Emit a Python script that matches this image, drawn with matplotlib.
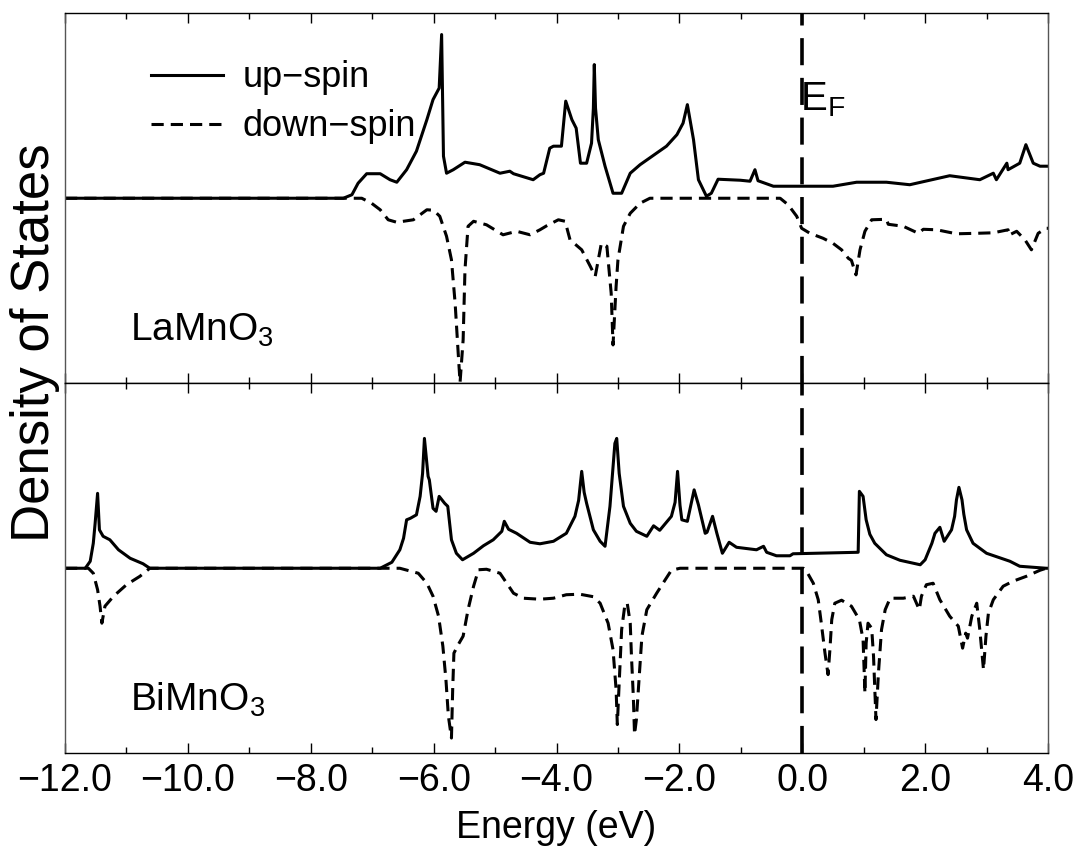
import numpy as np
import matplotlib
matplotlib.use("Agg")
import matplotlib.pyplot as plt
from matplotlib import font_manager
from matplotlib.ticker import FuncFormatter, MultipleLocator


def pick_font(*names):
    for n in names:
        try:
            font_manager.findfont(font_manager.FontProperties(family=n), fallback_to_default=False)
            return n
        except ValueError:
            pass
    return "DejaVu Sans"


narrow = pick_font("Liberation Sans Narrow", "Liberation Sans", "Arial")
regular = pick_font("Liberation Sans", "Arial")

plt.rcParams["font.family"] = [narrow, "DejaVu Sans"]
plt.rcParams["mathtext.fontset"] = "custom"
plt.rcParams["mathtext.rm"] = narrow
plt.rcParams["mathtext.default"] = "regular"

# ---- data (energy in eV, DOS in arbitrary units) ----
# LaMnO3
la_up_e = [-12.0, -7.47, -7.33, -7.23, -7.09, -6.87, -6.71, -6.60, -6.44, -6.28,
           -6.11, -6.01, -5.91, -5.87, -5.84, -5.79, -5.68, -5.49, -5.25, -4.92,
           -4.76, -4.70, -4.38, -4.27, -4.21, -4.11, -4.05, -3.92, -3.85, -3.75,
           -3.68, -3.61, -3.51, -3.43, -3.40, -3.385, -3.365, -3.32, -3.21, -3.08,
           -2.94, -2.80, -2.64, -2.21, -2.04, -1.94, -1.87, -1.77, -1.69, -1.56,
           -1.48, -1.37, -1.01, -0.85, -0.77, -0.72, -0.47, 0.07, 0.50, 0.885,
           1.37, 1.75, 2.40, 2.89, 3.11, 3.16, 3.33, 3.35, 3.54, 3.64,
           3.76, 3.87, 4.0]
la_up = [0, 0, 0.35, 1.5, 2.45, 2.45, 1.85, 1.6, 2.85, 4.7,
         7.85, 9.85, 11.0, 16.35, 4.2, 2.5, 2.85, 3.6, 3.35, 2.5,
         2.7, 2.45, 1.85, 2.35, 2.5, 5.0, 5.2, 5.2, 9.7, 7.85,
         7.0, 3.5, 3.5, 5.5, 9.0, 13.35, 9.0, 5.85, 3.2, 0.5,
         0.5, 2.5, 3.35, 5.2, 6.35, 7.5, 9.35, 5.85, 1.85, 0.2,
         0.5, 1.9, 1.8, 1.7, 2.85, 1.75, 1.2, 1.2, 1.2, 1.6,
         1.6, 1.35, 2.25, 1.85, 2.5, 1.85, 3.5, 2.85, 3.5, 5.35,
         3.5, 3.2, 3.2]

la_dn_e = [-12.0, -7.17, -7.01, -6.87, -6.74, -6.60, -6.33, -6.11, -6.00, -5.90,
           -5.79, -5.71, -5.65, -5.60, -5.57, -5.52, -5.49, -5.44, -5.35, -5.14,
           -4.87, -4.65, -4.43, -4.27, -4.16, -3.97, -3.86, -3.78, -3.59, -3.45,
           -3.37, -3.32, -3.27, -3.18, -3.11, -3.08, -3.03, -3.00, -2.91, -2.80,
           -2.64, -2.48, -0.36, -0.23, -0.09, -0.01, 0.125, 0.34, 0.50, 0.64,
           0.75, 0.80, 0.875, 0.94, 1.02, 1.13, 1.37, 1.40, 1.645, 1.89,
           1.97, 2.19, 2.51, 2.84, 3.11, 3.35, 3.36, 3.49, 3.625, 3.73,
           3.84, 3.97, 4.0]
la_dn = [0, 0, -0.5, -1.15, -2.15, -2.4, -2.15, -1.15, -1.2, -1.8,
         -3.8, -6.15, -10.5, -15.5, -18.4, -14.15, -7.15, -2.8, -2.3, -2.65,
         -3.65, -3.3, -3.65, -3.15, -2.75, -2.15, -2.3, -4.15, -5.15, -6.8,
         -7.8, -6.15, -4.5, -4.8, -9.5, -14.65, -8.8, -6.15, -2.8, -1.5,
         -0.5, 0, 0, -0.65, -1.8, -3.0, -3.5, -4.0, -4.5, -5.15,
         -6.0, -6.2, -7.65, -5.15, -3.3, -2.15, -2.1, -2.6, -2.8, -3.5,
         -3.1, -3.15, -3.55, -3.5, -3.45, -3.15, -3.7, -3.3, -4.15, -5.15,
         -3.5, -3.0, -3.0]

# BiMnO3
bi_up_e = [-12.0, -11.67, -11.59, -11.54, -11.51, -11.47, -11.44, -11.38, -11.27, -11.13,
           -10.94, -10.73, -10.62, -6.87, -6.68, -6.55, -6.49, -6.44, -6.38, -6.28,
           -6.22, -6.18, -6.15, -6.09, -6.07, -6.01, -5.96, -5.91, -5.82, -5.77,
           -5.71, -5.63, -5.53, -5.35, -5.19, -5.03, -4.89, -4.85, -4.78, -4.65,
           -4.43, -4.27, -4.05, -3.84, -3.70, -3.64, -3.59, -3.55, -3.51, -3.40,
           -3.29, -3.21, -3.13, -3.05, -3.02, -2.98, -2.91, -2.80, -2.70, -2.53,
           -2.42, -2.32, -2.13, -2.07, -2.03, -1.99, -1.96, -1.87, -1.76, -1.69,
           -1.58, -1.55, -1.46, -1.39, -1.30, -1.19, -1.07, -0.745, -0.63, -0.58,
           -0.42, -0.20, -0.15, 0.91, 0.93, 0.99, 1.04, 1.10, 1.18, 1.37,
           1.59, 1.92, 2.00, 2.11, 2.16, 2.24, 2.31, 2.43, 2.48, 2.51,
           2.55, 2.60, 2.63, 2.675, 2.78, 3.00, 3.38, 3.54, 3.97, 4.0]
bi_up = [0, 0, 0.7, 2.5, 4.5, 7.5, 3.85, 3.2, 2.85, 1.85,
         1.0, 0.45, 0, 0, 0.6, 1.85, 3.0, 4.85, 5.0, 5.35,
         7.2, 9.5, 13.0, 9.2, 8.85, 6.0, 5.7, 7.2, 6.5, 6.2,
         2.85, 1.5, 0.85, 1.5, 2.25, 2.85, 3.7, 4.7, 3.9, 3.5,
         2.6, 2.45, 2.7, 3.5, 5.2, 6.8, 9.7, 7.6, 6.5, 3.85,
         2.7, 2.2, 6.2, 12.5, 13.0, 9.5, 6.2, 4.5, 3.7, 3.2,
         4.25, 3.8, 5.2, 6.6, 9.7, 6.3, 4.85, 4.7, 7.85, 6.35,
         3.5, 3.6, 5.2, 3.5, 1.5, 2.6, 2.1, 1.85, 2.2, 1.6,
         1.25, 1.25, 1.45, 1.6, 7.7, 7.2, 4.85, 3.4, 2.5, 1.35,
         0.8, 0.35, 0.85, 2.5, 3.5, 4.1, 2.7, 3.85, 5.2, 6.85,
         8.1, 6.85, 5.4, 3.85, 2.5, 1.5, 0.7, 0.2, 0, 0]

bi_dn_e = [-12.0, -11.62, -11.54, -11.47, -11.43, -11.40, -11.35, -11.21, -11.00, -10.78,
           -10.62, -6.55, -6.49, -6.25, -6.11, -6.01, -5.92, -5.85, -5.80, -5.76,
           -5.71, -5.69, -5.67, -5.60, -5.52, -5.44, -5.35, -5.27, -5.14, -4.92,
           -4.81, -4.70, -4.54, -4.27, -4.05, -3.84, -3.62, -3.40, -3.29, -3.16,
           -3.08, -3.03, -3.01, -2.98, -2.94, -2.89, -2.85, -2.80, -2.78, -2.75,
           -2.73, -2.70, -2.65, -2.61, -2.53, -2.37, -2.23, -2.13, -1.99, 0.02,
           0.07, 0.18, 0.26, 0.31, 0.37, 0.42, 0.45, 0.48, 0.53, 0.64,
           0.80, 0.93, 0.99, 1.02, 1.04, 1.07, 1.13, 1.16, 1.20, 1.24,
           1.29, 1.35, 1.43, 1.645, 1.81, 1.905, 1.94, 2.02, 2.13, 2.24,
           2.40, 2.54, 2.61, 2.66, 2.69, 2.76, 2.84, 2.89, 2.95, 2.99,
           3.03, 3.11, 3.27, 3.43, 3.65, 3.87, 3.97, 4.0]
bi_dn = [0, 0, -0.5, -2.15, -3.8, -5.5, -3.8, -2.8, -1.65, -0.8,
         0, 0, -0.1, -0.5, -1.5, -2.8, -4.8, -7.8, -11.15, -14.8,
         -17.0, -12.15, -8.5, -7.65, -6.8, -4.15, -1.8, -0.15, -0.1, -0.5,
         -1.5, -2.5, -3.0, -3.1, -3.0, -2.65, -2.6, -2.85, -3.5, -5.5,
         -8.15, -12.15, -15.65, -11.5, -6.15, -3.8, -3.45, -5.5, -8.8, -12.8,
         -16.65, -15.15, -10.5, -6.8, -4.15, -2.5, -1.15, -0.2, 0, 0,
         -0.3, -1.5, -3.15, -5.5, -8.5, -10.65, -8.15, -5.15, -3.5, -3.2,
         -3.8, -5.15, -7.15, -12.5, -7.5, -5.5, -6.0, -8.8, -15.15, -10.5,
         -6.15, -4.15, -3.0, -3.0, -2.8, -4.15, -2.8, -1.65, -1.5, -3.15,
         -4.8, -5.8, -8.0, -6.5, -7.0, -4.8, -3.5, -6.15, -10.15, -6.8,
         -4.5, -3.15, -1.8, -1.3, -0.8, -0.2, 0, 0]

xticks = [-12, -10, -8, -6, -4, -2, 0, 2, 4]
e_fermi = 0.0

# ---- figure ----
fig = plt.figure(figsize=(10.73, 8.56), dpi=100)
ax1 = fig.add_axes([0.0606, 0.552, 0.9161, 0.4328])
ax2 = fig.add_axes([0.0606, 0.1203, 0.9161, 0.4317])

LW = 2.2
dash = (0, (4.0, 2.3))

ax1.plot(la_up_e, la_up, color="k", lw=LW, solid_joinstyle="round", label="up\u2212spin")
ax1.plot(la_dn_e, la_dn, color="k", lw=LW, linestyle=dash, label="down\u2212spin")
ax2.plot(bi_up_e, bi_up, color="k", lw=LW, solid_joinstyle="round")
ax2.plot(bi_dn_e, bi_dn, color="k", lw=LW, linestyle=dash)

fmt = FuncFormatter(lambda v, p: f"{v:.1f}".replace("-", "\u2212"))
for ax in (ax1, ax2):
    ax.axvline(e_fermi, color="k", lw=2.6, linestyle=(0, (7.5, 3.5)))
    ax.set_xlim(-12, 4)
    ax.set_ylim(-18.5, 18.5)
    ax.set_xticks(xticks)
    ax.xaxis.set_minor_locator(MultipleLocator(1))
    ax.xaxis.set_major_formatter(fmt)
    ax.tick_params(axis="x", which="both", direction="in", top=True, bottom=True,
                   width=1.0, labelsize=27, pad=7)
    ax.tick_params(axis="x", which="major", length=7)
    ax.tick_params(axis="x", which="minor", length=4.5)
    ax.tick_params(axis="y", left=False, labelleft=False)
    for s in ax.spines.values():
        s.set_linewidth(1.0)
    ax.spines["left"].set_color("#555555")
    ax.spines["right"].set_color("#555555")

ax1.tick_params(axis="x", labelbottom=False)

ax1.legend(loc="upper left", bbox_to_anchor=(0.087, 0.872), frameon=False, fontsize=26,
           handlelength=2.0, handletextpad=0.55, labelspacing=0.38,
           borderpad=0, borderaxespad=0)

ax1.text(0.066, 0.143, "LaMnO$_3$", transform=ax1.transAxes, fontsize=28,
         ha="left", va="center")
ax2.text(0.066, 0.144, "BiMnO$_3$", transform=ax2.transAxes, fontsize=28,
         ha="left", va="center")
ax1.text(e_fermi - 0.03, 0.765, "E$_F$", transform=ax1.get_xaxis_transform(),
         fontsize=29, ha="left", va="center")

ax2.set_xlabel("Energy (eV)", fontsize=27, labelpad=8)
fig.text(0.033, 0.60, "Density of States", rotation=90, ha="center", va="center",
         fontsize=38, family=[regular, "DejaVu Sans"])

fig.savefig("out.png", dpi=100)
